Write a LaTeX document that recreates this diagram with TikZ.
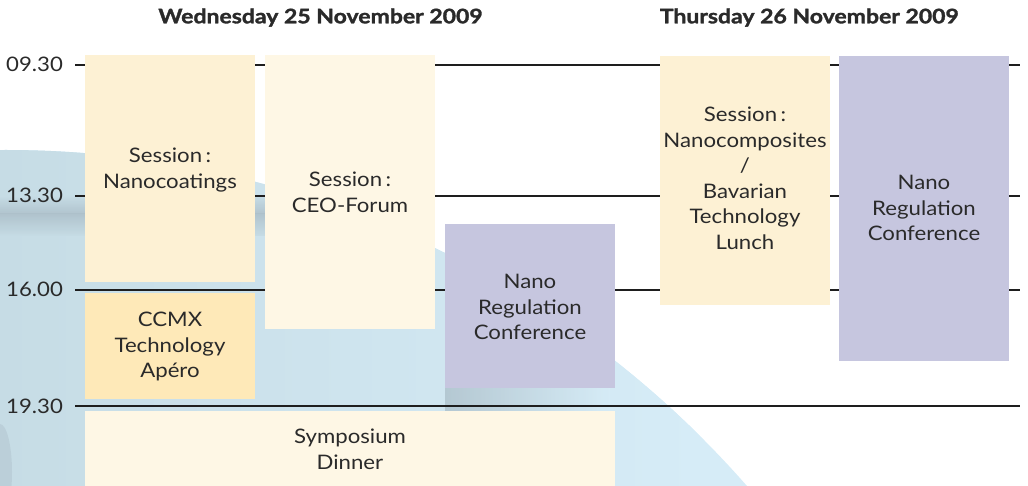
\documentclass[tikz,border=0pt]{standalone}
\usepackage{fontspec}
\setmainfont{Lato}[FakeStretch=1.11]
\newfontfamily\titlefont{Lato}[FakeStretch=1.15, BoldFeatures={FakeBold=1.6}]
\definecolor{textgrey}{HTML}{2A2A2A}
\definecolor{rulegrey}{HTML}{1E1E1E}
\definecolor{creamA}{HTML}{FDF1D4}
\definecolor{creamC}{HTML}{FEF7E5}
\definecolor{apero}{HTML}{FEE9B8}
\definecolor{lav}{HTML}{C6C6DF}
\definecolor{bgblue}{HTML}{D6ECF7}
\definecolor{bgleft}{HTML}{C6DCE5}
\definecolor{bgband}{HTML}{AEC1CB}
\begin{document}
\begin{tikzpicture}[x=1pt,y=-1pt,
  box/.style={draw=none, inner sep=0pt, outer sep=0pt, anchor=north west, minimum width=170pt},
  txt/.style={font=\fontsize{20}{25.5}\selectfont, text=textgrey, align=center, inner sep=0pt, anchor=north},
  timelbl/.style={font=\fontsize{20}{24}\selectfont, text=textgrey, inner sep=0pt, anchor=base west},
  daytitle/.style={font=\fontsize{20}{24}\selectfont\titlefont\bfseries, text=textgrey, inner sep=0pt, anchor=base},
  rule/.style={draw=rulegrey, line width=1.1pt}]
\useasboundingbox (0,0) rectangle (1028,486);
% background photo (approximation)
\begin{scope}
  \clip (0,0) rectangle (1028,486);
  \fill[bgblue] (6,1135) circle (985pt);
  \begin{scope}
    \clip (6,1135) circle (985pt);
    \shade[left color=bgleft, right color=bgblue] (0,140) rectangle (700,486);
    \shade[top color=bgleft, bottom color=bgband, opacity=0.9] (0,196) rectangle (450,214);
    \shade[top color=bgband, bottom color=bgleft, opacity=0.9] (0,214) rectangle (450,236);
    \shade[left color=bgband, right color=bgblue, opacity=0.8] (445,388) rectangle (610,411);
    \fill[bgband, opacity=0.45] (0,472) ellipse (12pt and 48pt);
  \end{scope}
\end{scope}
% time rules
\coordinate (r1s) at (75,65);  \coordinate (r1e) at (1020,65);
\coordinate (r2s) at (75,196); \coordinate (r2e) at (1020,196);
\coordinate (r3s) at (75,290); \coordinate (r3e) at (1020,290);
\coordinate (r4s) at (75,406); \coordinate (r4e) at (1020,406);
\draw[rule] (r1s) -- (r1e);
\draw[rule] (r2s) -- (r2e);
\draw[rule] (r3s) -- (r3e);
\draw[rule] (r4s) -- (r4e);
% time labels
\node[timelbl] (t1) at (6,72) {09.30};
\node[timelbl] (t2) at (6,203) {13.30};
\node[timelbl] (t3) at (6,297) {16.00};
\node[timelbl] (t4) at (6,413) {19.30};
% day titles
\node[daytitle] (d1) at (320.5,23.3) {Wednesday 25 November 2009};
\node[daytitle] (d2) at (809.3,23.3) {Thursday 26 November 2009};
% boxes
\node[box, fill=creamA, minimum height=227pt] (A) at (85,55) {};
\node[box, fill=apero,  minimum height=106pt] (B) at (85,293) {};
\node[box, fill=creamC, minimum height=274pt] (C) at (265,55) {};
\node[box, fill=lav,    minimum height=164pt] (D) at (445,224) {};
\node[box, fill=creamC, minimum width=530pt, minimum height=80pt] (E) at (85,411) {};
\node[box, fill=creamA, minimum height=249pt] (F) at (660,56) {};
\node[box, fill=lav,    minimum height=305pt] (G) at (839,56) {};
% texts
\node[txt] (At) at (170,148) {Session\,:\\Nanocoatings};
\node[txt] (Bt) at (170,312) {CCMX\\Technology\\Apéro};
\node[txt] (Ct) at (350,172) {Session\,:\\CEO-Forum};
\node[txt] (Dt) at (530,274) {Nano\\Regulation\\Conference};
\node[txt] (Et) at (350,429) {Symposium\\Dinner};
\node[txt] (Ft) at (745,107) {Session\,:\\Nanocomposites\\/\\Bavarian\\Technology\\Lunch};
\node[txt] (Gt) at (924,175) {Nano\\Regulation\\Conference};
\end{tikzpicture}
\end{document}
